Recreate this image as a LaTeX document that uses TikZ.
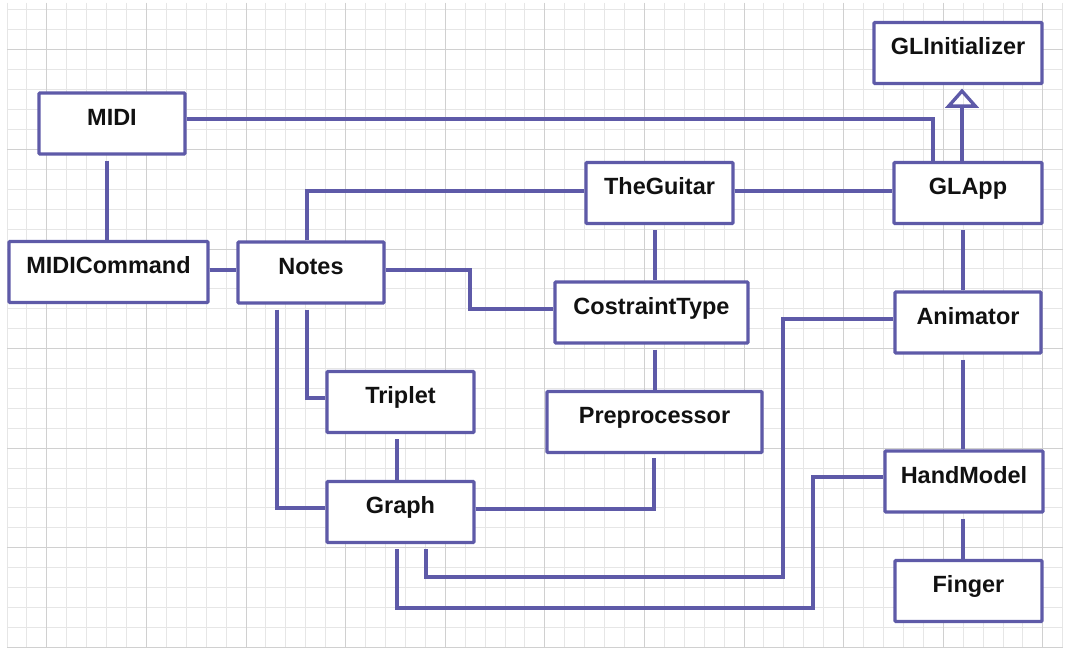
\documentclass[tikz,border=0pt]{standalone}
\usepackage{fontspec}
\setmainfont{Liberation Sans}
\usetikzlibrary{arrows.meta,calc}
\definecolor{ucol}{HTML}{5E5AA8}
\definecolor{gridl}{HTML}{E6E6E6}
\definecolor{gridd}{HTML}{D0D0D0}
\definecolor{txt}{HTML}{111111}
\begin{document}
\begin{tikzpicture}[x=0.75pt,y=-0.75pt,
  cls/.style={draw=ucol, line width=2.5pt, fill=white, rounded corners=0.8pt,
    minimum height=45.75pt, inner sep=0pt, text=txt,
    font=\fontsize{17.6pt}{21pt}\selectfont\bfseries,
    text height=12.6pt, text depth=9.8pt},
  conn/.style={draw=ucol, line width=2.5pt},
  gapstart/.style={shorten <=3.75pt},
  gapend/.style={shorten >=3pt},
  gl/.style={draw=gridl, line width=0.75pt},
  gd/.style={draw=gridd, line width=0.75pt}]
\useasboundingbox (0,0) rectangle (1068,648);
\fill[white] (0,0) rectangle (1068,648);
% grid
\foreach \k in {0,...,53} \draw[gl] ({7+19.92*\k},3) -- ({7+19.92*\k},647.4);
\foreach \k in {0,...,32} \draw[gl] (7,{10+19.92*\k}) -- (1063,{10+19.92*\k});
\foreach \k in {2,7,...,52} \draw[gd] ({7+19.92*\k},3) -- ({7+19.92*\k},647.4);
\foreach \k in {2,7,...,32} \draw[gd] (7,{10+19.92*\k}) -- (1063,{10+19.92*\k});
% classes
\node[cls, minimum width=126pt]    (GLInit) at (958,53)    {GLInitializer};
\node[cls, minimum width=111pt]    (GLApp)  at (968,193)   {GLApp};
\node[cls, minimum width=109.5pt]  (MIDI)   at (112,123.5) {MIDI};
\node[cls, minimum width=149.25pt] (MC)     at (108.5,272) {MIDICommand};
\node[cls, minimum width=109.5pt]  (Notes)  at (311,272.5) {Notes};
\node[cls, minimum width=110.25pt] (TG)     at (659.5,193) {TheGuitar};
\node[cls, minimum width=144.75pt] (CT)     at (651.5,312.5) {CostraintType};
\node[cls, minimum width=161.25pt] (Pre)    at (654.5,422) {Preprocessor};
\node[cls, minimum width=110.25pt] (Triplet) at (400.5,402) {Triplet};
\node[cls, minimum width=110.25pt] (Graph)  at (400.5,512) {Graph};
\node[cls, minimum width=109.5pt]  (Anim)   at (968,322.5) {Animator};
\node[cls, minimum width=118.5pt]  (HM)     at (964,481.5) {HandModel};
\node[cls, minimum width=110.25pt] (Finger) at (968.5,591) {Finger};
% connectors
\draw[conn] (MIDI.east |- 0,119) -| (GLApp.north -| 933,0);
\draw[conn, -{Triangle[open,length=14.5pt,width=25pt]}, shorten >=2.5pt]
  (GLApp.north -| 962,0) -- (GLInit.south -| 962,0);
\draw[conn] (TG.east |- 0,191) -- (GLApp.west |- 0,191);
\draw[conn] (TG.west |- 0,191) -| (Notes.north -| 307,0);
\draw[conn, gapstart] (TG.south -| 655,0) -- (CT.north -| 655,0);
\draw[conn, gapstart] (CT.south -| 655,0) -- (Pre.north -| 655,0);
\draw[conn, gapstart] (MIDI.south -| 107,0) -- (MC.north -| 107,0);
\draw[conn] (MC.east |- 0,270) -- (Notes.west |- 0,270);
\draw[conn] (Notes.east |- 0,270) -| (470,309) -- (CT.west |- 0,309);
\draw[conn, gapstart] (Notes.south -| 307,0) |- (Triplet.west |- 0,398);
\draw[conn, gapstart] (Notes.south -| 277,0) |- (Graph.west |- 0,508);
\draw[conn, gapstart] (Triplet.south -| 397,0) -- (Graph.north -| 397,0);
\draw[conn, gapend] (Graph.east |- 0,509) -| (Pre.south -| 654,0);
\draw[conn, gapstart] (Graph.south -| 426,0) |- (783,577) |- (Anim.west |- 0,319);
\draw[conn, gapstart] (Graph.south -| 397,0) |- (813,608) |- (HM.west |- 0,477);
\draw[conn, gapstart] (GLApp.south -| 963,0) -- (Anim.north -| 963,0);
\draw[conn, gapstart] (Anim.south -| 963,0) -- (HM.north -| 963,0);
\draw[conn, gapstart] (HM.south -| 963,0) -- (Finger.north -| 963,0);
\end{tikzpicture}
\end{document}
